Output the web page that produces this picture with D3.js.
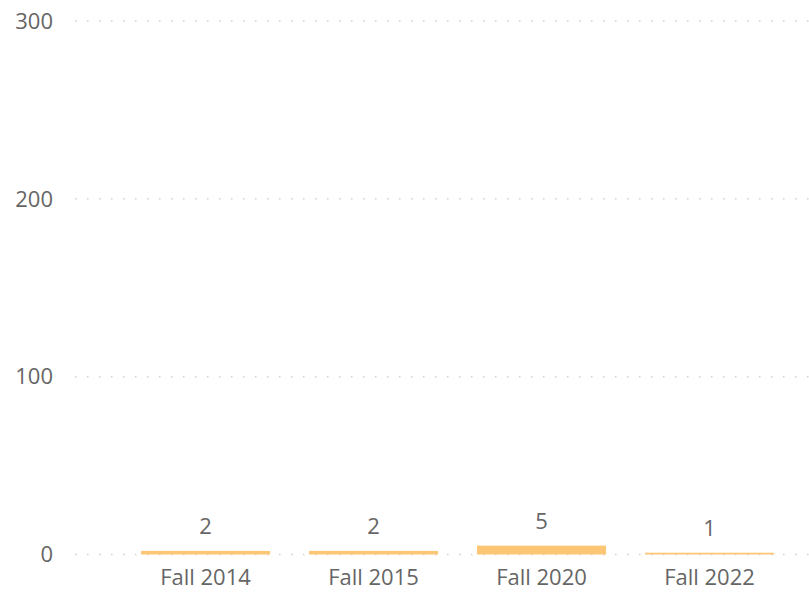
<!DOCTYPE html>
<html>
<head>
<meta charset="utf-8">
<script src="https://cdn.jsdelivr.net/npm/d3@7"></script>
<style>
  html, body { margin: 0; padding: 0; background: #ffffff; }
  svg { display: block; }
  text { font-family: "Segoe UI", "Open Sans", sans-serif; fill: #666666; }
</style>
</head>
<body>
<svg id="chart" width="809" height="595"></svg>
<script>
const categories = ["Fall 2014", "Fall 2015", "Fall 2020", "Fall 2022"];
const values = [2, 2, 5, 1];
const yTicks = [0, 100, 200, 300];

const width = 809, height = 595;
const svg = d3.select("#chart");

const y = d3.scaleLinear().domain([0, 300]).range([554.5, 21]);
const x = d3.scaleBand().domain(categories).range([99, 816]).paddingInner(0.232).paddingOuter(0.25);

// gridlines
svg.append("g").selectAll("line").data(yTicks).join("line")
  .attr("x1", 75).attr("x2", width)
  .attr("y1", d => y(d)).attr("y2", d => y(d))
  .attr("stroke", "#D0D0D0").attr("stroke-width", 1.5)
  .attr("stroke-dasharray", "1.5,10.5");

// y labels
svg.append("g").selectAll("text").data(yTicks).join("text")
  .attr("x", 53).attr("y", d => y(d))
  .attr("text-anchor", "end").attr("dy", "0.35em")
  .attr("font-size", 22)
  .text(d => d);

const data = categories.map((c, i) => ({c, v: values[i]}));

// bars
svg.append("g").selectAll("rect").data(data).join("rect")
  .attr("x", d => x(d.c)).attr("width", x.bandwidth())
  .attr("y", d => y(d.v)).attr("height", d => y(0) - y(d.v))
  .attr("fill", "#FDC675");

// value labels
svg.append("g").selectAll("text").data(data).join("text")
  .attr("x", d => x(d.c) + x.bandwidth() / 2)
  .attr("y", d => y(d.v) - 16.5)
  .attr("text-anchor", "middle")
  .attr("font-size", 22)
  .text(d => d.v);

// x labels
svg.append("g").selectAll("text").data(data).join("text")
  .attr("x", d => x(d.c) + x.bandwidth() / 2)
  .attr("y", 585)
  .attr("text-anchor", "middle")
  .attr("font-size", 22)
  .text(d => d.c);
</script>
</body>
</html>
